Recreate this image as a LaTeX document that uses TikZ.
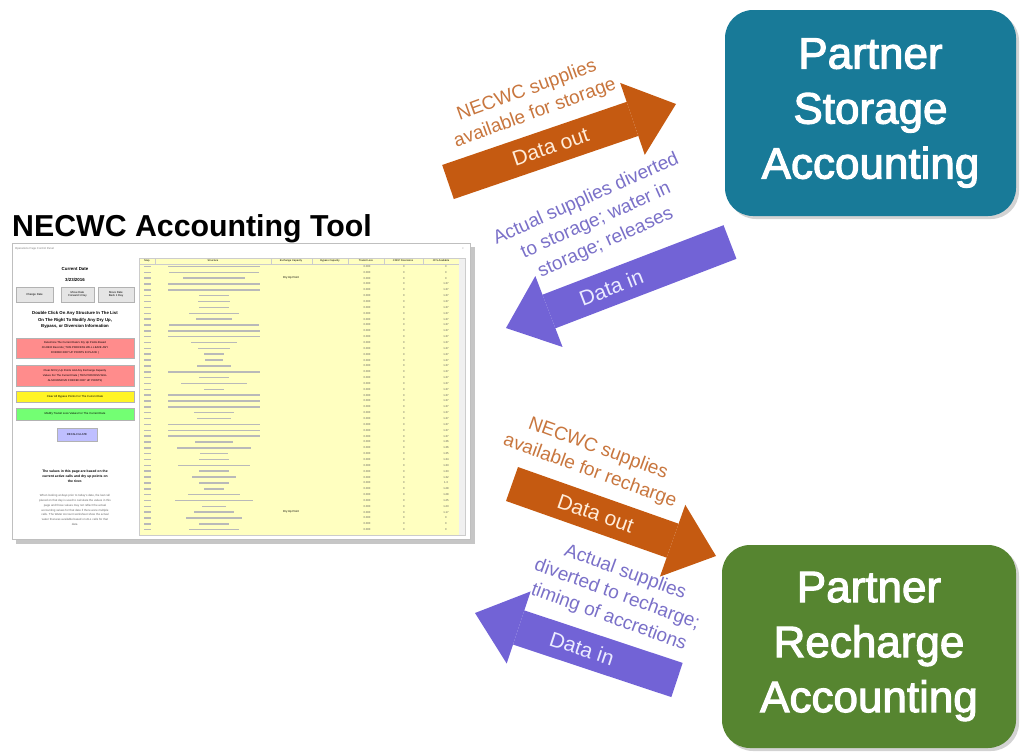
\documentclass[tikz,border=0pt]{standalone}
\usepackage{fontspec}
\setmainfont{Liberation Sans}
\newfontfamily\boxfont[FakeBold=2.5]{Liberation Sans}
\usetikzlibrary{arrows.meta,shadows}

\definecolor{storageblue}{RGB}{24,122,152}
\definecolor{rechargegreen}{RGB}{86,133,48}
\definecolor{outorange}{RGB}{197,90,17}
\definecolor{outtext}{RGB}{200,118,62}
\definecolor{inpurple}{RGB}{114,99,214}
\definecolor{intext}{RGB}{122,112,200}
\definecolor{sheetyellow}{RGB}{255,255,192}

\begin{document}
\begin{tikzpicture}[x=1pt,y=-1pt]
    \tikzstyle{partner}=[rounded corners=28pt,text=white,align=center,
        font=\boxfont\fontsize{44}{55}\selectfont,
        drop shadow={shadow xshift=3pt,shadow yshift=-3pt,opacity=.35}]
    \tikzstyle{dataout}=[line width=36pt,draw=outorange,
        -{Triangle[length=46pt,width=76pt,line width=0pt]}]
    \tikzstyle{datain}=[dataout,draw=inpurple]
    \tikzstyle{arrowtext}=[sloped,font=\fontsize{21}{25}\selectfont]
    \tikzstyle{flowlabel}=[align=center,font=\fontsize{19}{24}\selectfont]
    \tikzstyle{tiny}=[inner sep=0pt,align=center,font=\fontsize{2.8}{3.4}\selectfont]
    \tikzstyle{button}=[draw=gray!60,inner sep=0pt]
    \useasboundingbox (0,0) rectangle (1020,755);

    % partner boxes
    \node[partner,fill=storageblue,minimum width=291pt,minimum height=206pt]
        (storage) at (870.5,113) {Partner\\Storage\\Accounting};
    \node[partner,fill=rechargegreen,minimum width=294pt,minimum height=203pt]
        (recharge) at (869,646.5) {Partner\\Recharge\\Accounting};

    % title and screenshot of the tool
    \node[anchor=base west,inner sep=0pt,font=\bfseries\fontsize{30.3}{36}\selectfont]
        (tooltitle) at (12,236) {NECWC Accounting Tool};
    \fill[gray!45] (16,247) rectangle (475,544);
    \draw[gray!50,fill=white] (12,243) rectangle (470,539);
    \node[tiny,anchor=west,text=gray] (paneltitle) at (15,249) {Operations Page Control Panel};
    \node[tiny,text=gray] (closex) at (463,249) {×};

    % left side of the panel
    \node[tiny,font=\bfseries\fontsize{4.4}{5}\selectfont] (curdate) at (75,269) {Current Date};
    \node[tiny,font=\bfseries\fontsize{4.4}{5}\selectfont] (datevalue) at (75,280) {3/23/2016};
    \node[button,fill=gray!20,minimum width=37pt,minimum height=15pt] (change) at (34.5,294.5) {};
    \node[tiny] at (change) {Change Date};
    \node[button,fill=gray!20,minimum width=33pt,minimum height=15pt] (forward) at (77.5,294.5) {};
    \node[tiny] at (forward) {Move Date\\Forward 1 Day};
    \node[button,fill=gray!20,minimum width=36pt,minimum height=15pt] (back) at (116,294.5) {};
    \node[tiny] at (back) {Move Date\\Back 1 Day};
    \node[tiny,font=\bfseries\fontsize{4.3}{6.3}\selectfont] (hint) at (75,320)
        {Double Click On Any Structure In The List\\On The Right To Modify Any Dry Up,\\Bypass, or Diversion Information};
    \node[button,fill=red!45,minimum width=118pt,minimum height=20pt] (determine) at (75,348) {};
    \node[tiny,font=\fontsize{2.7}{5.2}\selectfont] at (determine)
        {Determine The Current Date's Dry Up Points Based\\On DEO Records ( THIS PROCESS WILL LEAVE ANY\\FORCED DRY UP POINTS IN PLACE )};
    \node[button,fill=red!45,minimum width=118pt,minimum height=21pt] (cleardry) at (75,375.5) {};
    \node[tiny,font=\fontsize{2.7}{5.2}\selectfont] at (cleardry)
        {Clear All Dry Up Points And Any Exchange Capacity\\Values For The Current Date ( THIS PROCESS WILL\\ALSO REMOVE FORCED DRY UP POINTS)};
    \node[button,fill=yellow!85,minimum width=118pt,minimum height=11pt] (bypass) at (75,396.5) {};
    \node[tiny] at (bypass) {Clear All Bypass Points For The Current Date};
    \node[button,fill=green!55,minimum width=118pt,minimum height=12pt] (transit) at (75,414) {};
    \node[tiny] at (transit) {Modify Transit Loss Values For The Current Date};
    \node[button,fill=blue!25,minimum width=40pt,minimum height=13pt] (recalc) at (77,434.5) {};
    \node[tiny] at (recalc) {RECALCULATE};
    \node[tiny,font=\bfseries\fontsize{3.4}{5.2}\selectfont] (basis) at (75,476)
        {The values in this page are based on the\\current active calls and dry up points on\\the river.};
    \node[tiny,font=\fontsize{2.9}{4.9}\selectfont,text=gray!80!black] (note) at (75,510)
        {When looking at days prior to today's date, the last call\\placed on that day is used to calculate the values in this\\page and those values may not reflect the actual\\accounting values for that date if there were multiple\\calls. The Water Account worksheet show the actual\\water that was available based on ALL calls for that\\date.};

    % table of structures
    \fill[sheetyellow] (139,258) rectangle (459,535);
    \fill[gray!12] (459,258) rectangle (465,535);
    \draw[gray!40] (139,258) rectangle (465,535);
    \draw[gray!40] (139,264) -- (459,264);
    \foreach \x in {155,271,312,348,384,423}
        \draw[gray!40] (\x,258) -- (\x,264);
    \node[tiny,font=\fontsize{2.6}{3}\selectfont] (hmap) at (147,261) {Map};
    \node[tiny,font=\fontsize{2.6}{3}\selectfont] (hstruct) at (213,261) {Structure};
    \node[tiny,font=\fontsize{2.6}{3}\selectfont] (hexch) at (291,261) {Exchange Capacity};
    \node[tiny,font=\fontsize{2.6}{3}\selectfont] (hbypass) at (330,261) {Bypass Capacity};
    \node[tiny,font=\fontsize{2.6}{3}\selectfont] (hloss) at (366,261) {Transit Loss};
    \node[tiny,font=\fontsize{2.6}{3}\selectfont] (hcddp) at (403,261) {CDDP Diversions};
    \node[tiny,font=\fontsize{2.6}{3}\selectfont] (hcfs) at (441,261) {CFS Available};
    \foreach \w/\v [count=\r] in {92/0,90/0,62/0,92/1.37,92/1.37,30/1.37,32/1.37,30/1.37,
        50/1.37,36/1.37,90/1.37,92/1.37,92/1.37,46/1.37,32/1.37,20/1.37,18/1.37,34/1.37,
        92/1.37,30/1.37,66/1.37,20/1.37,92/1.37,92/1.37,92/1.37,40/1.37,34/1.37,92/1.37,
        92/1.37,92/1.37,38/1.36,74/1.36,28/1.35,30/1.34,72/1.33,30/1.33,44/1.32,30/1.3,
        20/1.28,52/1.28,78/1.25,24/1.23,40/1.17,56/0,30/0,50/0} {
        \draw[gray!55,line width=1.5pt] (144,260.6+5.85*\r) -- ++(7,0);
        \draw[gray!55,line width=1.5pt] (214-\w/2,260.6+5.85*\r) -- ++(\w,0);
        \node[tiny,font=\fontsize{2.8}{3}\selectfont,text=gray!70!black] at (367,260.6+5.85*\r) {0.000};
        \node[tiny,font=\fontsize{2.8}{3}\selectfont,text=gray!70!black] at (404,260.6+5.85*\r) {0};
        \node[tiny,font=\fontsize{2.8}{3}\selectfont,text=gray!70!black] at (446,260.6+5.85*\r) {\v};
    }
    \node[tiny,font=\fontsize{2.8}{3}\selectfont] (dry1) at (291,278.15) {Dry Up Point};
    \node[tiny,font=\fontsize{2.8}{3}\selectfont] (dry2) at (291,512.15) {Dry Up Point};

    % data flows
    \coordinate (outtail1) at (448,182);
    \coordinate (outtip1) at (676,104);
    \coordinate (intail1) at (730,242);
    \coordinate (intip1) at (506,328);
    \coordinate (outtail2) at (512,484);
    \coordinate (outtip2) at (716,556);
    \coordinate (intail2) at (677,680);
    \coordinate (intip2) at (475,613);
    \draw[dataout] (outtail1) -- node[arrowtext,pos=.45,text=orange!15] (dataout1) {Data out} (outtip1);
    \draw[datain] (intail1) -- node[arrowtext,pos=.53,text=blue!8] (datain1) {Data in} (intip1);
    \draw[dataout] (outtail2) -- node[arrowtext,pos=.41,text=orange!15] (dataout2) {Data out} (outtip2);
    \draw[datain] (intail2) -- node[arrowtext,pos=.47,text=blue!8] (datain2) {Data in} (intip2);

    \node[flowlabel,text=outtext,rotate=20] (supply1) at (531,102) {NECWC supplies\\available for storage};
    \node[flowlabel,text=intext,rotate=24] (actual1) at (596,221) {Actual supplies diverted\\to storage; water in\\storage; releases};
    \node[flowlabel,text=outtext,rotate=-20] (supply2) at (594,460) {NECWC supplies\\available for recharge};
    \node[flowlabel,text=intext,rotate=-20] (actual2) at (617,595) {Actual supplies\\diverted to recharge;\\timing of accretions};
\end{tikzpicture}
\end{document}
